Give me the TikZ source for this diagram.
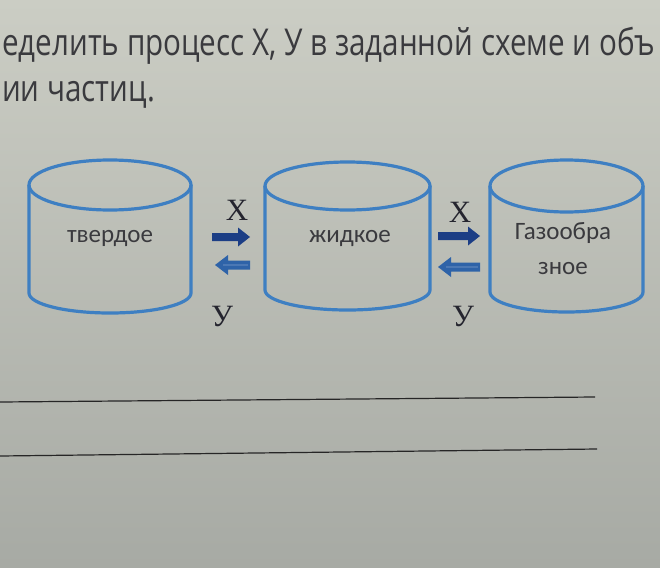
\documentclass[tikz,border=0pt]{standalone}
\usepackage{fontspec}
\usepackage{graphicx}
\newfontfamily\titlefont{Open Sans}
\newfontfamily\cylfont{Carlito}
\newfontfamily\labfont{Liberation Serif}
\definecolor{bgtop}{HTML}{CBCDC4}
\definecolor{bgbot}{HTML}{A7AAA4}
\definecolor{cylblue}{HTML}{3E7FC2}
\definecolor{navy}{HTML}{1C3E85}
\definecolor{midblue}{HTML}{2E63A8}
\definecolor{txt}{HTML}{3A3A3E}
\definecolor{labtxt}{HTML}{25252F}
\tikzset{
  cylline/.style={draw=cylblue, line width=3.2pt},
  cyltext/.style={font=\cylfont\fontsize{25}{35}\selectfont, text=txt, align=center, inner sep=0pt},
  lab/.style={font=\labfont\fontsize{31}{31}\selectfont, text=labtxt, inner sep=0pt},
  rarr/.style={fill=navy, draw=none},
  larr/.style={fill=midblue, draw=none},
  ruleline/.style={draw=black!85, line width=1.2pt}
}
\newcommand\cylshape[6]{% cx, cy, rx, ry, ybot, ryb
  \draw[cylline] (#1,#2) ellipse [x radius=#3, y radius=#4];
  \draw[cylline, line join=round] (#1-#3,#2) -- (#1-#3,#5) arc[start angle=180, end angle=360, x radius=#3, y radius=#6] -- (#1+#3,#2);
}
\newcommand\rightblock[3]{% x1, x2, yc
  \fill[rarr] (#1,#3+4) -- (#2-12,#3+4) -- (#2-12,#3+9.5) -- (#2,#3) -- (#2-12,#3-9.5) -- (#2-12,#3-4) -- (#1,#3-4) -- cycle;
}
\newcommand\leftblock[3]{% x1, x2, yc
  \fill[larr] (#2,#3+4.5) -- (#1+13,#3+4.5) -- (#1+13,#3+10) -- (#1,#3) -- (#1+13,#3-10) -- (#1+13,#3-4.5) -- (#2,#3-4.5) -- cycle;
  \draw[midblue!60!white, line width=1.2pt, opacity=0.35] (#1+8,#3) -- (#2-2,#3);
}
\begin{document}
\begin{tikzpicture}[x=1pt,y=1pt]
\useasboundingbox (0,0) rectangle (660,-567);
\shade[top color=bgtop, bottom color=bgbot] (0,0) rectangle (660,-567);

\node[anchor=base west, inner sep=0pt, text=txt, font=\titlefont\fontsize{37}{45}\selectfont] (title) at (2,-56)
  {\resizebox{653pt}{\height}{\begin{tabular}[t]{@{}l@{}}еделить процесс Х, У в заданной схеме и объ\\ии частиц.\end{tabular}}};

\cylshape{110}{-185}{81}{25}{-293}{20}
\cylshape{347.5}{-186}{82.5}{24}{-290}{20}
\cylshape{566.5}{-186}{76.5}{26}{-292}{20}

\node[cyltext] (solid) at (110,-238) {твердое};
\node[cyltext] (liquid) at (350,-238) {жидкое};
\node[cyltext] (gas) at (563,-249) {Газообра\\зное};

\node[lab] (x1) at (237,-210) {Х};
\node[lab] (y1) at (222,-316) {У};
\node[lab] (x2) at (460,-212) {Х};
\node[lab] (y2) at (463,-316) {У};

\rightblock{212}{250}{-237}
\leftblock{215}{250}{-265}
\rightblock{438}{480}{-236}
\leftblock{438}{480}{-267}

\coordinate (l1a) at (0,-402);
\coordinate (l1b) at (595,-397);
\coordinate (l2a) at (0,-456);
\coordinate (l2b) at (597,-449);
\draw[ruleline] (l1a) -- (l1b);
\draw[ruleline] (l2a) -- (l2b);
\end{tikzpicture}
\end{document}
